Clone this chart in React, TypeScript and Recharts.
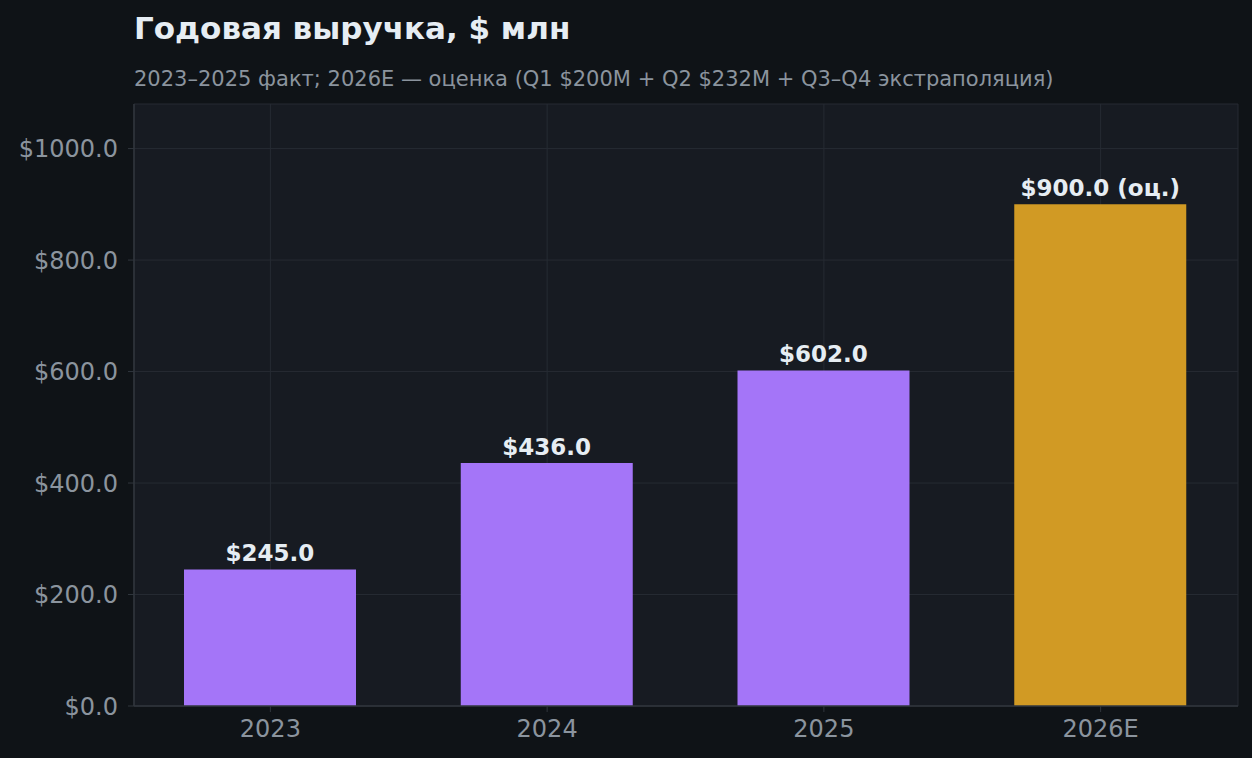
import React from 'react';
import { BarChart, Bar, XAxis, YAxis, CartesianGrid, Cell, LabelList } from 'recharts';

const years = ['2023', '2024', '2025', '2026E'];
const revenue = [245, 436, 602, 900];
const estimated = [false, false, false, true];
const barColors = ['#a475f8', '#a475f8', '#a475f8', '#d19a24'];
const yTicks = [0, 200, 400, 600, 800, 1000];

const data = years.map((y, i) => ({ year: y, value: revenue[i], est: estimated[i] }));

const FONT = '"DejaVu Sans", sans-serif';

const BarLabel = (props: any) => {
  const { x, y, width, value, index } = props;
  const txt = `$${Number(value).toFixed(1)}` + (estimated[index] ? ' (оц.)' : '');
  return (
    <text
      x={x + width / 2}
      y={y - 8}
      textAnchor="middle"
      fill="#e6edf3"
      fontFamily={FONT}
      fontWeight="bold"
      fontSize={23}
    >
      {txt}
    </text>
  );
};

export default function App() {
  return (
    <div style={{ position: 'absolute', left: 0, top: 0, width: 1252, height: 758, background: '#0f1317', fontFamily: FONT }}>
      <BarChart
        width={1252}
        height={758}
        data={data}
        margin={{ top: 104, right: 14, bottom: 0, left: 0 }}
        barSize={172}
      >
        <CartesianGrid stroke="#262b33" strokeWidth={1} fill="#171b22" vertical={true} horizontal={true} />
        <XAxis
          dataKey="year"
          height={52}
          padding={{ left: -2, right: -1 }}
          stroke="#30363d"
          tickSize={6}
          tickMargin={8}
          tick={{ fill: '#8b949e', fontSize: 24, fontFamily: FONT }}
          tickLine={{ stroke: '#30363d' }}
          axisLine={{ stroke: '#30363d', strokeWidth: 1.5 }}
        />
        <YAxis
          width={134}
          domain={[0, 1080]}
          ticks={yTicks}
          allowDataOverflow
          tickFormatter={(v: number) => `$${v.toFixed(1)}`}
          tickSize={6}
          tickMargin={10}
          tick={{ fill: '#8b949e', fontSize: 24, fontFamily: FONT }}
          tickLine={{ stroke: '#30363d' }}
          axisLine={{ stroke: '#30363d', strokeWidth: 1.5 }}
        />
        <Bar dataKey="value" isAnimationActive={false}>
          {data.map((d, i) => (
            <Cell key={d.year} fill={barColors[i]} />
          ))}
          <LabelList dataKey="value" content={<BarLabel />} />
        </Bar>
      </BarChart>
      <svg width={1252} height={120} style={{ position: 'absolute', left: 0, top: 0, pointerEvents: 'none' }}>
        <text x={134} y={39} fill="#e6edf3" fontFamily={FONT} fontWeight="bold" fontSize={31}>
          Годовая выручка, $ млн
        </text>
        <text x={134} y={85.5} fill="#8b949e" fontFamily={FONT} fontSize={21}>
          2023–2025 факт; 2026E — оценка (Q1 $200M + Q2 $232M + Q3–Q4 экстраполяция)
        </text>
      </svg>
    </div>
  );
}
